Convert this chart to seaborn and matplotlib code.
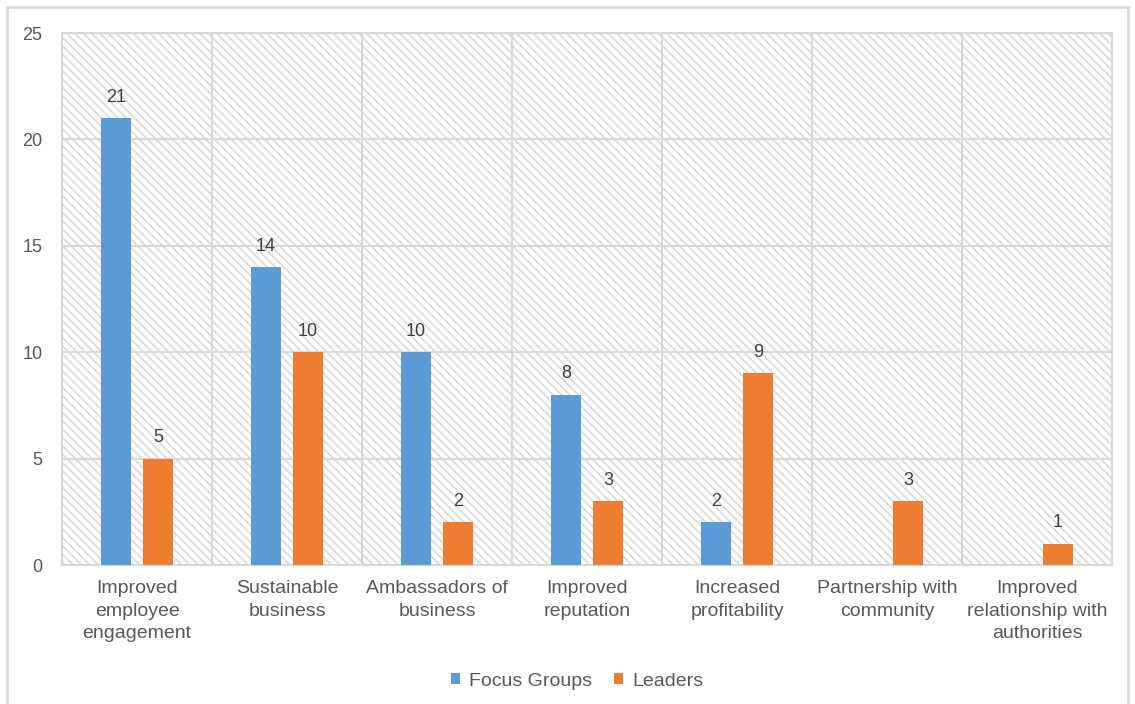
import numpy as np
import pandas as pd
import matplotlib
matplotlib.use("Agg")
import matplotlib.pyplot as plt
import seaborn as sns
from matplotlib.patches import Rectangle, Patch

categories = ["Improved\nemployee\nengagement", "Sustainable\nbusiness", "Ambassadors of\nbusiness",
              "Improved\nreputation", "Increased\nprofitability", "Partnership with\ncommunity",
              "Improved\nrelationship with\nauthorities"]
focus_groups = [21, 14, 10, 8, 2, None, None]
leaders = [5, 10, 2, 3, 9, 3, 1]
series_names = ["Focus Groups", "Leaders"]
colors = ["#5B9BD5", "#ED7D31"]
yticks = [0, 5, 10, 15, 20, 25]

rows = []
for c, f, l in zip(categories, focus_groups, leaders):
    rows.append({"cat": c, "series": series_names[0], "val": f if f is not None else np.nan})
    rows.append({"cat": c, "series": series_names[1], "val": l})
df = pd.DataFrame(rows)

sns.set_theme(style="white")
plt.rcParams['font.family'] = ['Liberation Sans', 'DejaVu Sans']
text_color = "#595959"
grid_color = "#D9D9D9"
plt.rcParams['hatch.color'] = "#DEDEDE"
plt.rcParams['hatch.linewidth'] = 1.2

fig = plt.figure(figsize=(11.35, 7.04), dpi=100)
ax = fig.add_axes([62/1135, 1-565/704, (1112-62)/1135, (565-33)/704])

# hatched background
ax.add_patch(Rectangle((0, 0), 1, 1, transform=ax.transAxes, facecolor="white",
                       edgecolor=grid_color, hatch="\\\\\\\\", linewidth=0, zorder=0))

sns.barplot(data=df, x="cat", y="val", hue="series", palette=colors, width=0.56, gap=0.2857,
            order=categories, hue_order=series_names, ax=ax, zorder=3, legend=False,
            saturation=1, edgecolor="none", linewidth=0)

for cont in ax.containers:
    labels = ["" if np.isnan(v) else f"{int(v)}" for v in cont.datavalues]
    ax.bar_label(cont, labels=labels, padding=9, fontsize=13, color="#404040")

ax.set_ylim(0, 25)
ax.set_xlim(-0.5, len(categories) - 0.5)
ax.set_yticks(yticks)
ax.set_xticks(range(len(categories)))
ax.set_xticklabels(categories, fontsize=14, color=text_color, linespacing=1.42)
ax.set_xticks(np.arange(0.5, len(categories) - 0.5, 1), minor=True)
ax.tick_params(axis='y', labelsize=13, labelcolor=text_color, length=0, pad=14)
ax.tick_params(axis='x', which='both', length=0, pad=11)
ax.grid(axis='y', which='major', color=grid_color, linewidth=1.5, zorder=1)
ax.grid(axis='x', which='minor', color=grid_color, linewidth=1.5, zorder=1)
ax.grid(axis='x', which='major', visible=False)
ax.set_axisbelow(True)
ax.set_xlabel("")
ax.set_ylabel("")
for s in ax.spines.values():
    s.set_color(grid_color)
    s.set_linewidth(1.5)

handles = [Patch(facecolor=c, edgecolor="none") for c in colors]
fig.legend(handles, series_names, loc="center", bbox_to_anchor=(577/1135, 1-681/704), ncol=2,
           frameon=False, fontsize=14, labelcolor=text_color, handlelength=0.5, handleheight=0.5,
           handletextpad=0.45, columnspacing=1.1)

fig.patches.append(Rectangle((7/1135, -0.05), (1128-7)/1135, 1.05 - 7/704, transform=fig.transFigure,
                             facecolor="none", edgecolor=grid_color, linewidth=2, zorder=0))

fig.savefig("out.png", dpi=100)
